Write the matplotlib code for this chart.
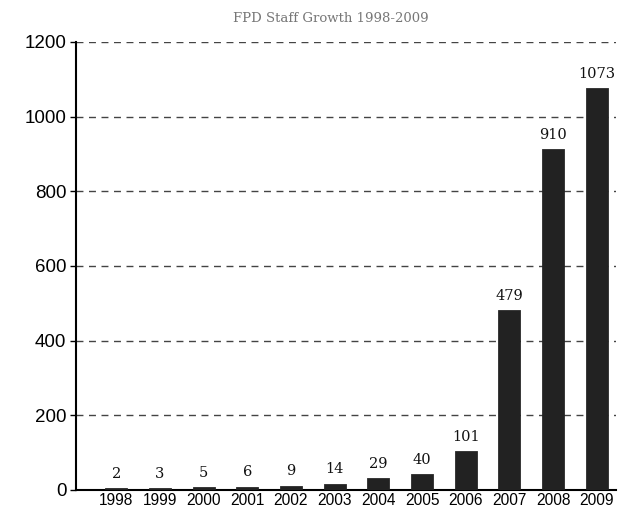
import matplotlib.pyplot as plt

years = ["1998", "1999", "2000", "2001", "2002", "2003",
         "2004", "2005", "2006", "2007", "2008", "2009"]
staff = [2, 3, 5, 6, 9, 14, 29, 40, 101, 479, 910, 1073]
y_ticks = [0, 200, 400, 600, 800, 1000, 1200]


def make_graph():
    fig = plt.figure(figsize=(6.37, 5.09), dpi=100)
    ax = fig.add_axes([76 / 637, 19 / 509, 540 / 637, 448 / 509])

    x = list(range(len(years)))
    bars = ax.bar(x, staff, width=0.46, color="#222222",
                  edgecolor="#222222", linewidth=2, zorder=3)

    for bar, val in zip(bars, staff):
        ax.annotate(str(val), (bar.get_x() + bar.get_width() / 2, val),
                    xytext=(0, 6), textcoords="offset points",
                    ha="center", va="bottom", fontsize=10.5,
                    family="DejaVu Serif", color="#111111")

    ax.set_xlim(-0.92, 11.44)
    ax.set_ylim(0, 1200)
    ax.set_xticks(x)
    ax.set_xticklabels(years, fontsize=11.2, family="Liberation Sans")
    ax.set_yticks(y_ticks)
    ax.set_yticklabels([str(t) for t in y_ticks], fontsize=13.5,
                       family="Liberation Sans")
    ax.tick_params(axis="x", length=0, pad=2)
    ax.tick_params(axis="y", length=4, width=1, pad=3)

    for t in y_ticks[1:]:
        ax.axhline(t, color="#444444", linestyle=(0, (5, 4)),
                   linewidth=1, zorder=1)

    for side in ["top", "right"]:
        ax.spines[side].set_visible(False)
    ax.spines["left"].set_linewidth(1.5)
    ax.spines["bottom"].set_linewidth(1.5)

    fig.text(0.5 + 12 / 637, 1 - 18 / 509, "FPD Staff Growth 1998-2009",
             ha="center", va="center", fontsize=9.5,
             family="DejaVu Serif", color="#777777")

    fig.savefig("out.png", dpi=100)


if __name__ == "__main__":
    make_graph()
